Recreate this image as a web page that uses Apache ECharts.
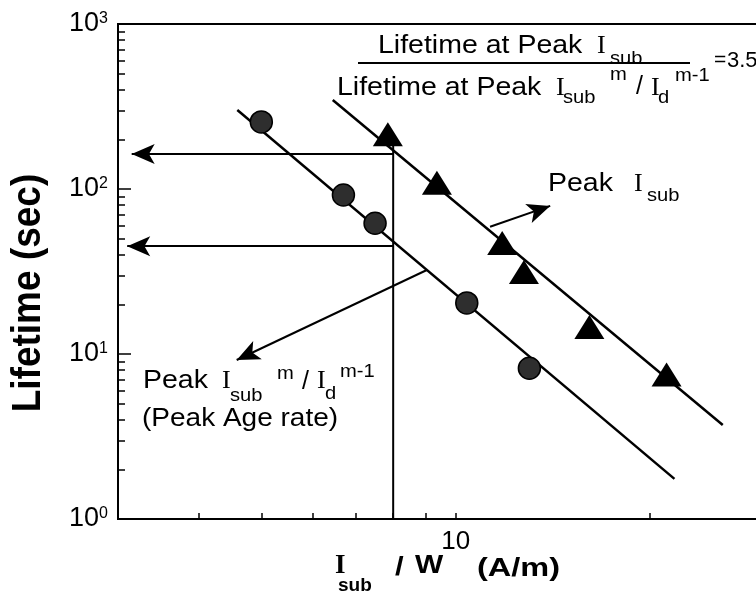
<!DOCTYPE html>
<html><head><meta charset="utf-8">
<script src="https://cdn.jsdelivr.net/npm/echarts@6/dist/echarts.min.js"></script>
<style>html,body{margin:0;padding:0;background:#fff}#c{width:756px;height:594px}</style>
</head><body><div id="c"></div>
<script>
// ---------- data ----------
const circleX = [5.0, 6.7, 7.5, 10.4, 13.0];
const circleY = [255, 92, 62, 20.4, 8.2];
const triX = [7.85, 9.35, 11.8, 12.75, 16.1, 21.2];
const triY = [215, 109, 47, 31.4, 14.6, 7.5];
const circleFitX = [4.59, 21.8];
const circleFitY = [301, 1.75];
const triFitX = [6.45, 25.9];
const triFitY = [346, 3.71];
const guideX = [8, 8];
const guideY = [1, 190];
const arrowUpperX = [8, 3.15];
const arrowUpperY = [163, 163];
const arrowLowerX = [8, 3.10];
const arrowLowerY = [45, 45];
const arrowPeakX = [11.3, 14.0];
const arrowPeakY = [59, 79];
const arrowAgeX = [9.02, 4.58];
const arrowAgeY = [32.3, 9.2];
const xTickValues = [4, 5, 6, 7, 8, 9, 10, 20];
const xLabelValues = [10];
const yMinorTicks = [2,3,4,5,6,7,8,9,20,30,40,50,60,70,80,90,200,300,400,500,600,700,800,900];

const zip = (a, b) => a.map((v, i) => [v, b[i]]);
const seg = (xs, ys) => [{coord: [xs[0], ys[0]]}, {coord: [xs[1], ys[1]]}];

function makePattern() {
  const c = document.createElement('canvas');
  c.width = 4; c.height = 4;
  const g = c.getContext('2d');
  g.fillStyle = '#2e2e2e'; g.fillRect(0, 0, 4, 4);
  g.fillStyle = '#ffffff'; g.fillRect(1, 1, 2, 2);
  return c;
}

const SANS = 'Liberation Sans', SERIF = 'Liberation Serif';
function t(x, y, text, size, opt) {
  opt = opt || {};
  return {
    type: 'text', x: x, y: y, scaleX: opt.sx || 1, scaleY: opt.sy || 1,
    rotation: opt.rot || 0, silent: true, z: 100,
    style: {
      text: text, fill: '#000', fontSize: size,
      fontFamily: opt.serif ? SERIF : SANS,
      fontWeight: opt.bold ? 'bold' : 'normal',
      align: opt.align || 'left', verticalAlign: 'middle'
    }
  };
}
const M = 25, S = 18, MX = 1.14, SX = 1.12;
const graphics = [
  // fraction
  t(378, 46.3, 'Lifetime at Peak', M, {sx: MX}),
  t(597, 46.2, 'I', 26, {serif: true}),
  t(610, 59, 'sub', S, {sx: SX}),
  {type: 'line', silent: true, z: 100, shape: {x1: 358, y1: 63, x2: 690, y2: 63}, style: {stroke: '#000', lineWidth: 2}},
  t(337, 88.3, 'Lifetime at Peak', M, {sx: MX}),
  t(556, 88.2, 'I', 26, {serif: true}),
  t(563, 98.4, 'sub', S, {sx: SX}),
  t(610, 75.4, 'm', S, {sx: SX}),
  t(636, 87.5, '/', M),
  t(651, 88.2, 'I', 26, {serif: true}),
  t(658, 98.4, 'd', S, {sx: SX}),
  t(675, 76.4, 'm-1', S, {sx: SX}),
  t(714, 60.7, '=', 21),
  t(727, 60.7, '3.5', 22, {sx: 1.0}),
  // Peak Isub
  t(548, 184.3, 'Peak', M, {sx: MX}),
  t(634, 184.2, 'I', 26, {serif: true}),
  t(647, 196.4, 'sub', S, {sx: SX}),
  // Peak Isub^m / Id^m-1
  t(143, 381.3, 'Peak', M, {sx: MX}),
  t(222, 381.2, 'I', 26, {serif: true}),
  t(230, 396, 'sub', S, {sx: SX}),
  t(277, 374, 'm', S, {sx: SX}),
  t(302, 382, '/', M),
  t(317, 381.2, 'I', 26, {serif: true}),
  t(325, 394, 'd', S, {sx: SX}),
  t(340, 372, 'm-1', S, {sx: SX}),
  t(142, 418.8, '(Peak Age rate)', M, {sx: 1.12}),
  // x-axis title
  t(335, 566, 'I', 27, {serif: true, bold: true}),
  t(338, 585.4, 'sub', 19, {bold: true, sx: 1.0}),
  t(395, 568.3, '/', 26, {bold: true, sx: 1.2}),
  t(415, 566.3, 'W', 26, {bold: true, sx: 1.15}),
  t(477, 568.5, '(A/m)', 26, {bold: true, sx: 1.25}),
  // y-axis title
  t(29, 293, 'Lifetime (sec)', 37, {bold: true, rot: Math.PI / 2, align: 'center', sy: 1.12})
];

const chart = echarts.init(document.getElementById('c'), null, {renderer: 'canvas'});
const black = '#000';
chart.setOption({
  animation: false,
  backgroundColor: '#fff',
  grid: {left: 118, top: 24, width: 646, height: 495, show: true, borderColor: black, borderWidth: 2,
         containLabel: false, outerBoundsMode: 'none'},
  xAxis: {
    type: 'log', logBase: 10, min: 3, max: 30,
    axisLine: {show: true, onZero: false, lineStyle: {color: black, width: 2}},
    axisTick: {show: true, inside: true, length: 6, lineStyle: {color: black, width: 1.5}, customValues: xTickValues},
    axisLabel: {show: true, customValues: xLabelValues, margin: 10, fontSize: 26, fontFamily: SANS, color: black,
                formatter: v => String(Math.round(v))},
    splitLine: {show: false}, minorTick: {show: false}, minorSplitLine: {show: false}
  },
  yAxis: [{
    type: 'log', logBase: 10, min: 1, max: 1000, position: 'left',
    axisLine: {show: true, onZero: false, lineStyle: {color: black, width: 2}},
    axisTick: {show: true, inside: true, length: 13, lineStyle: {color: black, width: 1.5}},
    axisLabel: {
      show: true, margin: 10, showMinLabel: true, showMaxLabel: true,
      formatter: v => '{a|10}{s|' + Math.round(Math.log10(v)) + '}',
      rich: {
        a: {fontSize: 27, fontFamily: SANS, color: black, lineHeight: 27},
        s: {fontSize: 16, fontFamily: SANS, color: black, lineHeight: 16, verticalAlign: 'top'}
      }
    },
    splitLine: {show: false}
  }, {
    type: 'log', logBase: 10, min: 1, max: 1000, position: 'left', offset: 0,
    axisLine: {show: false},
    axisTick: {show: true, inside: true, length: 7, lineStyle: {color: black, width: 1.5}, customValues: yMinorTicks},
    axisLabel: {show: false}, splitLine: {show: false}
  }],
  graphic: graphics,
  series: [
    {type: 'line', name: 'fitAge', data: zip(circleFitX, circleFitY), showSymbol: false, symbol: 'none',
     lineStyle: {color: black, width: 2.5}, z: 2, silent: true},
    {type: 'line', name: 'fitPeak', data: zip(triFitX, triFitY), showSymbol: false, symbol: 'none',
     lineStyle: {color: black, width: 2.5}, z: 2, silent: true},
    {type: 'line', name: 'guide', data: zip(guideX, guideY), showSymbol: false, symbol: 'none',
     lineStyle: {color: black, width: 2}, z: 2, silent: true,
     markLine: {
       silent: true, symbol: ['none', 'arrow'], symbolSize: [15, 23],
       label: {show: false}, emphasis: {disabled: true},
       lineStyle: {color: black, width: 2, type: 'solid'},
       data: [seg(arrowUpperX, arrowUpperY), seg(arrowLowerX, arrowLowerY),
              seg(arrowPeakX, arrowPeakY), seg(arrowAgeX, arrowAgeY)]
     }},
    {type: 'scatter', name: 'Peak age rate', data: zip(circleX, circleY), symbol: 'circle', symbolSize: 22,
     itemStyle: {color: {image: makePattern(), repeat: 'repeat'}, borderColor: black, borderWidth: 1.5, opacity: 1}, z: 5},
    {type: 'scatter', name: 'Peak Isub', data: zip(triX, triY), symbol: 'triangle', symbolSize: [30, 24],
     itemStyle: {color: black, opacity: 1}, z: 5}
  ]
});
</script></body></html>
